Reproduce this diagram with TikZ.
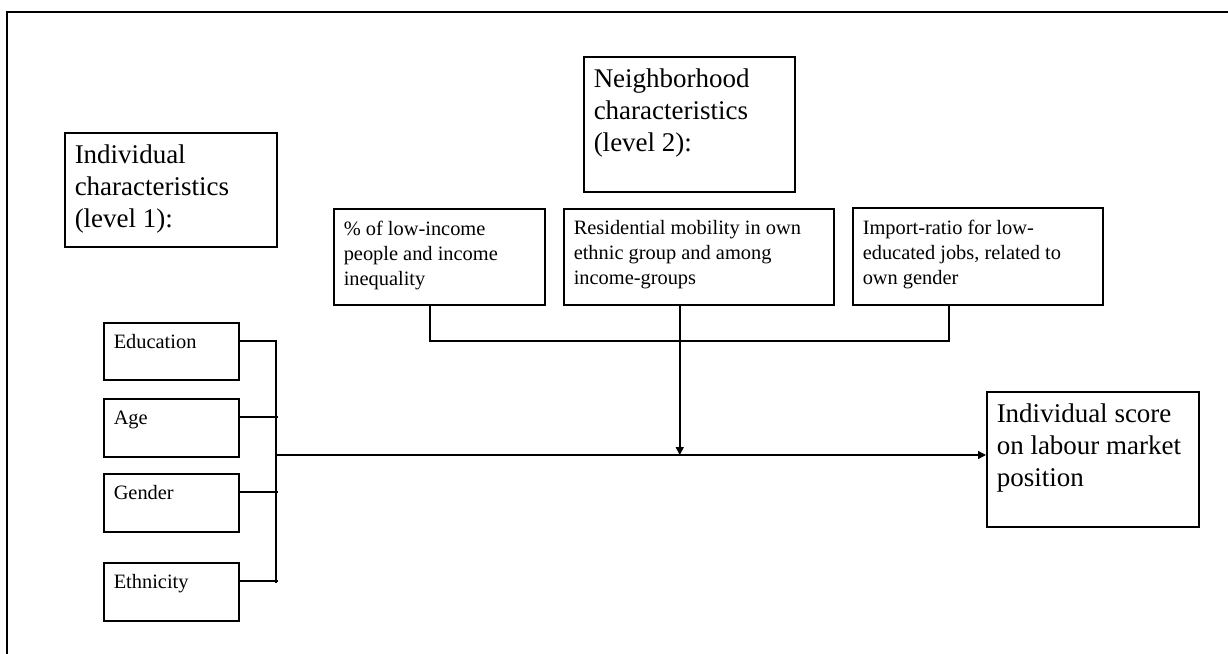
\documentclass[tikz,border=0pt]{standalone}
\usepackage{fontspec}
\setmainfont{Liberation Serif}
\usetikzlibrary{arrows.meta,calc}
\newcommand\tbx[3]{\vbox to #2{\hsize=#1\relax\parindent=0pt\raggedright #3\par\vfil}}
\begin{document}
\begin{tikzpicture}[x=0.5pt,y=-0.5pt,
  line width=0.75pt,
  box/.style={draw,line width=0.75pt,anchor=north west,inner xsep=5pt,inner ysep=6pt},
  bigf/.style={font=\fontsize{13.5}{16}\selectfont},
  smallf/.style={font=\fontsize{10.2}{12.5}\selectfont},
  arr/.style={-{Triangle[length=4pt,width=4pt]}}]
\useasboundingbox (0,0) rectangle (1228,654);
% cropped outer frame
\draw[line width=1pt] (7,654) -- (7,12) -- (1228,12);
% level boxes
\node[box,bigf] (ind) at (64,132) {\tbx{96pt}{45pt}{Individual\\characteristics\\(level 1):}};
\node[box,bigf] (nbh) at (583,56) {\tbx{95.5pt}{55.5pt}{Neighborhood\\characteristics\\(level 2):}};
\node[box,smallf] (pct) at (333,208) {\tbx{95.5pt}{36pt}{\% of low-income\\people and income\\inequality}};
\node[box,smallf] (res) at (563,208) {\tbx{125pt}{36pt}{Residential mobility in own\\ethnic group and among\\income-groups}};
\node[box,smallf] (imp) at (852,207) {\tbx{115pt}{36.5pt}{Import-ratio for low-\\educated jobs, related to\\own gender}};
\node[box,bigf] (score) at (986,391) {\tbx{96pt}{55.5pt}{Individual score\\on labour market\\position}};
% individual variables
\node[box,smallf] (edu) at (103,322) {\tbx{57.5pt}{16.5pt}{Education}};
\node[box,smallf] (age) at (103,398) {\tbx{57.5pt}{17pt}{Age}};
\node[box,smallf] (gen) at (103,473) {\tbx{57.5pt}{17pt}{Gender}};
\node[box,smallf] (eth) at (103,562) {\tbx{57.5pt}{17pt}{Ethnicity}};
% coordinates
\coordinate (bb) at (276,583);
\coordinate (mj) at (276,455);
\coordinate (pd) at ($(pct.south)+(-9.5,0)$);
\coordinate (rd) at ($(res.south)+(-19,0)$);
\coordinate (id) at ($(imp.south)+(-29,0)$);
\coordinate (nj) at (679,341);
% left bus
\draw ($(edu.north east)+(0,19)$) -| (bb);
\draw ($(age.north east)+(0,19)$) -- ++(38,0);
\draw ($(gen.north east)+(0,19)$) -- ++(38,0);
\draw ($(eth.north east)+(0,19)$) -- ++(38,0);
% main arrow
\draw[arr] (mj) -- (mj -| score.west);
% neighborhood connectors
\draw (pd) |- (nj) -| (id);
\draw[arr] (rd) -- (rd |- mj);
\end{tikzpicture}
\end{document}
